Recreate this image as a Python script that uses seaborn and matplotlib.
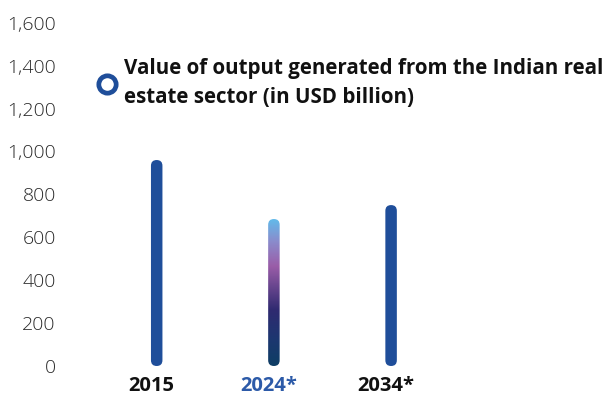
import numpy as np
import pandas as pd
import matplotlib
matplotlib.use("Agg")
import matplotlib.pyplot as plt
from matplotlib.patches import FancyBboxPatch
from matplotlib.colors import LinearSegmentedColormap
from matplotlib.transforms import ScaledTranslation
import seaborn as sns

# Output value of the Indian real estate sector (USD billion)
years = ["2015", "2024*", "2034*"]
output_usd_bn = [960, 685, 750]
label_colors = ["#111111", "#2c5aa8", "#111111"]
y_ticks = [0, 200, 400, 600, 800, 1000, 1200, 1400, 1600]

sns.set_theme(style="white")
plt.rcParams["font.family"] = ["Open Sans", "DejaVu Sans"]

W, H = 609, 396
fig = plt.figure(figsize=(W / 100, H / 100), dpi=100)
fig.patch.set_facecolor("white")

# axes placed in pixel terms: y=0 at 366 px, y=1600 at 22.7 px from top
ax_left, ax_right = 60, 609
y0_px, y1_px = 366, 22.7
ax = fig.add_axes([ax_left / W, 1 - y0_px / H, (ax_right - ax_left) / W, (y0_px - y1_px) / H])

df = pd.DataFrame({"year": years, "value": output_usd_bn})
bar_w = 0.098
sns.barplot(data=df, x="year", y="value", color="#1f4e9a", width=bar_w, ax=ax)

px_per_unit_x = 117.2
x_first = 156.7
ax.set_xlim((ax_left - x_first) / px_per_unit_x, (ax_right - x_first) / px_per_unit_x)
ax.set_ylim(0, 1600)

# aspect between y-units and x-units per pixel, for round caps
units_x = 1 / px_per_unit_x
units_y = 1600 / (y0_px - y1_px)
aspect = units_y / units_x

grad = LinearSegmentedColormap.from_list(
    "g", [(0.0, "#0e3e64"), (0.18, "#1c3770"), (0.38, "#2f2a70"),
          (0.68, "#9a5da8"), (0.85, "#8a8ccc"), (1.0, "#62baea")])

for i, p in enumerate(list(ax.patches)):
    x, y = p.get_x(), p.get_y()
    w, h = p.get_width(), p.get_height()
    p.set_visible(False)
    r = w / 2
    fb = FancyBboxPatch((x, y), w, h,
                        boxstyle=f"round,pad=0,rounding_size={r}",
                        mutation_aspect=aspect,
                        facecolor="#1f4e9a", edgecolor="none", zorder=3)
    ax.add_patch(fb)
    if i == 1:
        fb.set_facecolor("none")
        img = ax.imshow(np.linspace(0, 1, 256).reshape(-1, 1), cmap=grad,
                        origin="lower", aspect="auto",
                        extent=(x, x + w, y, y + h), zorder=3)
        img.set_clip_path(fb)

ax.set_xlim((ax_left - x_first) / px_per_unit_x, (ax_right - x_first) / px_per_unit_x)
ax.set_ylim(0, 1600)

for s in ax.spines.values():
    s.set_visible(False)
ax.set_xlabel("")
ax.set_ylabel("")
ax.set_yticks(y_ticks)
ax.set_yticklabels([f"{v:,}" for v in y_ticks], fontsize=14, color="#2a2a2a",
                   fontweight="light")
ax.tick_params(axis="y", length=0, pad=3)
ax.tick_params(axis="x", length=0, pad=7)
ax.set_xticks(range(len(years)))
ax.set_xticklabels(years, fontsize=14.5, fontweight="bold")
shift = ScaledTranslation(-5 / 100, 0, fig.dpi_scale_trans)
for t, c in zip(ax.get_xticklabels(), label_colors):
    t.set_color(c)
    t.set_transform(t.get_transform() + shift)
ax.grid(False)

# legend-style caption with ring marker
fig.add_artist(plt.Line2D([107 / W], [1 - 84 / H], marker="o", markersize=12.5,
                          markerfacecolor="white", markeredgecolor="#1f4e9a",
                          markeredgewidth=3.4, linestyle="none"))
fig.text(124 / W, 1 - 83 / H,
         "Value of output generated from the Indian real\nestate sector (in USD billion)",
         fontsize=14.8, fontweight="bold", color="#111111", va="center", ha="left",
         linespacing=1.45)

fig.savefig("out.png", dpi=100, facecolor="white")
